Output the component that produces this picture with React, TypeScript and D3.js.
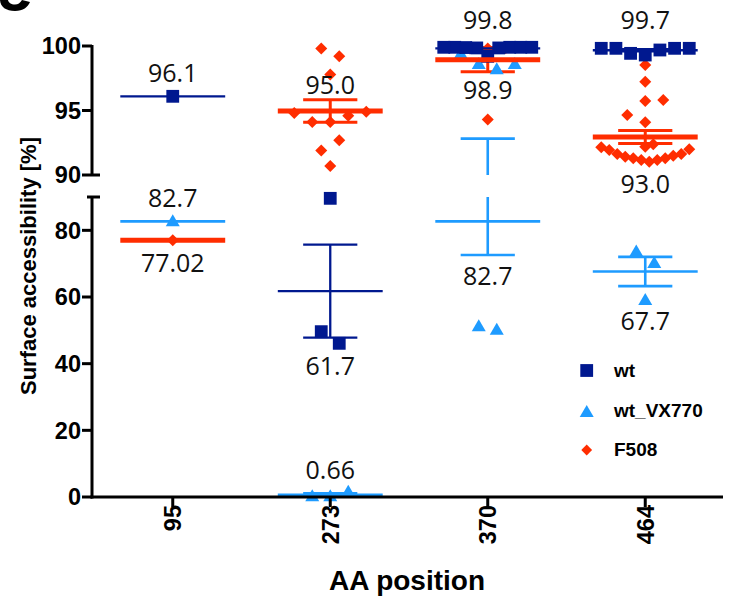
import React from "react";
import * as d3 from "d3";

// ---------- data ----------
const categories = ["95", "273", "370", "464"];
const seriesNames = ["wt", "wt_VX770", "F508"];

const wtValues: number[][] = [
  [96.1],
  [89.6, 49.6, 46.1],
  [99.9, 99.9, 99.85, 99.9, 99.85, 99.9, 99.88, 99.9, 99.2],
  [99.82, 99.82, 99.69, 99.3, 99.43, 99.82, 99.82],
];
const vx770Values: number[][] = [
  [82.7],
  [0.2, 1.56, 0.22],
  [99.4, 98.6, 98.2, 98.6, 50.2, 51.2],
  [73.65, 70.2, 59.1],
];
const f508Values: number[][] = [
  [77.02],
  [99.8, 99.2, 97.8, 94.8, 94.6, 94.9, 94.1, 94.1, 92.7, 91.9, 90.7],
  [99.9, 99.9, 99.85, 99.8, 99.8, 94.3],
  [98.53, 97.23, 95.74, 95.81, 94.65, 94.09, 92.19, 92.38, 91.94, 91.63, 91.42, 91.29, 91.16, 91.03, 91.16, 91.29, 91.5, 91.63, 91.99, 92.15],
];

const labelTexts = ["96.1", "82.7", "77.02", "95.0", "61.7", "0.66", "99.8", "98.9", "82.7", "99.7", "93.0", "67.7"];
const labelCats = ["95", "95", "95", "273", "273", "273", "370", "370", "370", "464", "464", "464"];
const labelAt = [97.23, 86.9, 67.5, 96.28, 36.6, 5.3, 101.3, 95.87, 63.6, 101.3, 88.58, 50.1];
const labelSeg = ["upper", "lower", "lower", "upper", "lower", "lower", "upper", "upper", "lower", "upper", "upper", "lower"];

const yTicksUpper = [90, 95, 100];
const yTicksLower = [0, 20, 40, 60, 80];

// ---------- layout helpers ----------
function swarm(ys: number[], step = 9, D = 16, maxHalf = 44): number[] {
  const n = ys.length;
  const xs = new Array(n).fill(0);
  if (n < 2) return xs;
  const order = d3.range(n).sort((a, b) => ys[b] - ys[a]);
  const placed: number[] = [];
  for (const i of order) {
    for (let k = 0; k < 400; k++) {
      const off = k === 0 ? 0 : (k % 2 === 1 ? -1 : 1) * Math.ceil(k / 2) * step;
      const ok = placed.every((j) => Math.hypot(xs[j] - off, ys[j] - ys[i]) >= D);
      if (ok) {
        xs[i] = off;
        break;
      }
    }
    placed.push(i);
  }
  const byY = d3.range(n).sort((a, b) => ys[a] - ys[b]);
  const comps: number[][] = [];
  let cur = [byY[0]];
  for (let t = 1; t < n; t++) {
    if (ys[byY[t]] - ys[byY[t - 1]] < D) cur.push(byY[t]);
    else {
      comps.push(cur);
      cur = [byY[t]];
    }
  }
  comps.push(cur);
  for (const c of comps) {
    const mn = d3.min(c, (j) => xs[j]) as number;
    const mx = d3.max(c, (j) => xs[j]) as number;
    const mid = (mn + mx) / 2;
    const half = (mx - mn) / 2;
    const s = half > maxHalf ? maxHalf / half : 1;
    c.forEach((j) => (xs[j] = (xs[j] - mid) * s));
  }
  return xs;
}

const NAVY = "#00188f";
const LIGHT = "#1e9bff";
const RED = "#ff2d00";

const AXIS_FONT = "'Liberation Sans', Arial, Helvetica, sans-serif";
const VALUE_FONT = "'Open Sans', 'Liberation Sans', sans-serif";

function Symbol({ shape, x, y, color, s = 1 }: { shape: string; x: number; y: number; color: string; s?: number }) {
  if (shape === "square") {
    const h = 6.4 * s;
    return <rect x={x - h} y={y - h} width={2 * h} height={2 * h} fill={color} />;
  }
  if (shape === "triangle") {
    const p = `M${x},${y - 7 * s}L${x + 7 * s},${y + 5 * s}L${x - 7 * s},${y + 5 * s}Z`;
    return <path d={p} fill={color} />;
  }
  const r = 6 * s;
  return <path d={`M${x},${y - r}L${x + r},${y}L${x},${y + r}L${x - r},${y}Z`} fill={color} />;
}

export default function App() {
  const W = 734;
  const H = 596;
  const x = d3.scaleBand<string>().domain(categories).range([94, 724]);
  const cx = (c: string) => (x(c) as number) + x.bandwidth() / 2;
  const yU = d3.scaleLinear().domain([90, 100]).range([175, 46]);
  const yL = d3.scaleLinear().domain([0, 90]).range([497, 197]);
  const yOf = (v: number, seg?: string) => ((seg ? seg === "upper" : v >= 90) ? yU(v) : yL(v));

  const meanHalf = x.bandwidth() * 0.333;
  const capHalf = x.bandwidth() * 0.172;

  const series = [
    { name: seriesNames[0], values: wtValues, color: NAVY, shape: "square", meanW: 2.3, errW: 2.3 },
    { name: seriesNames[1], values: vx770Values, color: LIGHT, shape: "triangle", meanW: 2.6, errW: 2.6 },
    { name: seriesNames[2], values: f508Values, color: RED, shape: "diamond", meanW: 5, errW: 3 },
  ];

  const stats = series.map((s) =>
    categories.map((c, ci) => {
      const vals = s.values[ci];
      const mean = d3.mean(vals) as number;
      const sem = vals.length > 1 ? (d3.deviation(vals) as number) / Math.sqrt(vals.length) : 0;
      const ys = vals.map((v) => yOf(v));
      const offs = swarm(ys);
      return { c, vals, mean, sem, ys, offs };
    })
  );

  const vSegs = (lo: number, hi: number): [number, number][] => {
    if (lo < 90 && hi > 90) return [[yL(lo), yL(90)], [yU(90), yU(hi)]];
    return [[yOf(lo), yOf(hi)]];
  };

  const errorBars = series.map((s, si) =>
    stats[si].map((st, ci) => {
      if (st.sem <= 0) return null;
      const X = cx(st.c);
      const lo = st.mean - st.sem;
      const hi = st.mean + st.sem;
      return (
        <g key={`e${si}-${ci}`} stroke={s.color} strokeWidth={s.errW} fill="none">
          {vSegs(lo, hi).map((sg, k) => (
            <line key={k} x1={X} x2={X} y1={sg[0]} y2={sg[1]} />
          ))}
          <line x1={X - capHalf} x2={X + capHalf} y1={yOf(lo)} y2={yOf(lo)} />
          <line x1={X - capHalf} x2={X + capHalf} y1={yOf(hi)} y2={yOf(hi)} />
        </g>
      );
    })
  );

  const pointOrder = [2, 1, 0];
  const points = pointOrder.map((si) =>
    stats[si].map((st, ci) =>
      st.vals.map((v, k) => (
        <Symbol key={`p${si}-${ci}-${k}`} shape={series[si].shape} x={cx(st.c) + st.offs[k]} y={st.ys[k]} color={series[si].color} />
      ))
    )
  );

  const meanOrder = [1, 0, 2];
  const means = meanOrder.map((si) =>
    stats[si].map((st, ci) => {
      const X = cx(st.c);
      const Y = yOf(st.mean);
      return <line key={`m${si}-${ci}`} x1={X - meanHalf} x2={X + meanHalf} y1={Y} y2={Y} stroke={series[si].color} strokeWidth={series[si].meanW} />;
    })
  );

  const axisW = 3;
  const axisX = 92;

  return (
    <svg width={W} height={H} style={{ position: "absolute", left: 0, top: 0, background: "#fff" }}>
      <rect width={W} height={H} fill="#fff" />
      {/* bottom of a cropped panel mark */}
      <path d="M0,0 C0.5,7 6,11 15,11 C23,11 28,7 30,2 L22,0 C20,3 18,4.5 15,4.5 C11,4.5 8.5,2.5 8,0 Z" fill="#000" />
      {errorBars}
      {points}
      {means}

      {/* value labels */}
      {labelTexts.map((t, i) => (
        <text key={`l${i}`} x={cx(labelCats[i])} y={yOf(labelAt[i], labelSeg[i])} textAnchor="middle" fontFamily={VALUE_FONT} fontSize={25} fill="#111">
          {t}
        </text>
      ))}

      {/* y axis */}
      <g stroke="#000" strokeWidth={axisW} fill="none">
        <line x1={axisX} x2={axisX} y1={yU(100) - 1} y2={yU(90)} />
        <line x1={axisX} x2={axisX} y1={yL(90)} y2={yL(0) + 1.5} />
        {yTicksUpper.map((t) => (
          <line key={`tu${t}`} x1={axisX - 10} x2={t === 90 ? axisX + 8 : axisX} y1={yU(t)} y2={yU(t)} />
        ))}
        <line x1={axisX - 5} x2={axisX + 8} y1={yL(90)} y2={yL(90)} />
        {yTicksLower.map((t) => (
          <line key={`tl${t}`} x1={axisX - 10} x2={axisX} y1={yL(t)} y2={yL(t)} />
        ))}
      </g>
      <g fontFamily={AXIS_FONT} fontWeight="bold" fontSize={23.5} textAnchor="end" fill="#000">
        {yTicksUpper.map((t) => (
          <text key={`ytu${t}`} x={81} y={yU(t)} dy="0.36em">
            {t}
          </text>
        ))}
        {yTicksLower.map((t) => (
          <text key={`ytl${t}`} x={81} y={yL(t)} dy="0.36em">
            {t}
          </text>
        ))}
      </g>
      <text transform={`translate(36,266) rotate(-90)`} textAnchor="middle" fontFamily={AXIS_FONT} fontWeight="bold" fontSize={22} fill="#000">
        Surface accessibility [%]
      </text>

      {/* x axis */}
      <g stroke="#000" strokeWidth={axisW}>
        <line x1={axisX - 1.5} x2={723} y1={yL(0)} y2={yL(0)} />
        {categories.map((c) => (
          <line key={`xt${c}`} x1={cx(c)} x2={cx(c)} y1={yL(0)} y2={yL(0) + 10} />
        ))}
      </g>
      <g fontFamily={AXIS_FONT} fontWeight="bold" fontSize={23.5} fill="#000">
        {categories.map((c) => (
          <text key={`xl${c}`} transform={`translate(${cx(c)},${yL(0) + 8}) rotate(-90)`} textAnchor="end" dy="0.36em">
            {c}
          </text>
        ))}
      </g>
      <text x={407} y={590} textAnchor="middle" fontFamily={AXIS_FONT} fontWeight="bold" fontSize={28} fill="#000">
        AA position
      </text>

      {/* legend */}
      <g>
        <Symbol shape="square" x={586.7} y={370.5} color={NAVY} />
        <Symbol shape="triangle" x={586.7} y={412} color={LIGHT} />
        <Symbol shape="diamond" x={586.7} y={450} color={RED} s={0.9} />
        <g fontFamily={AXIS_FONT} fontWeight="bold" fontSize={19} fill="#000">
          <text x={614} y={377}>{seriesNames[0]}</text>
          <text x={614} y={416.5}>{seriesNames[1]}</text>
          <text x={614} y={456}>{seriesNames[2]}</text>
        </g>
      </g>
    </svg>
  );
}
